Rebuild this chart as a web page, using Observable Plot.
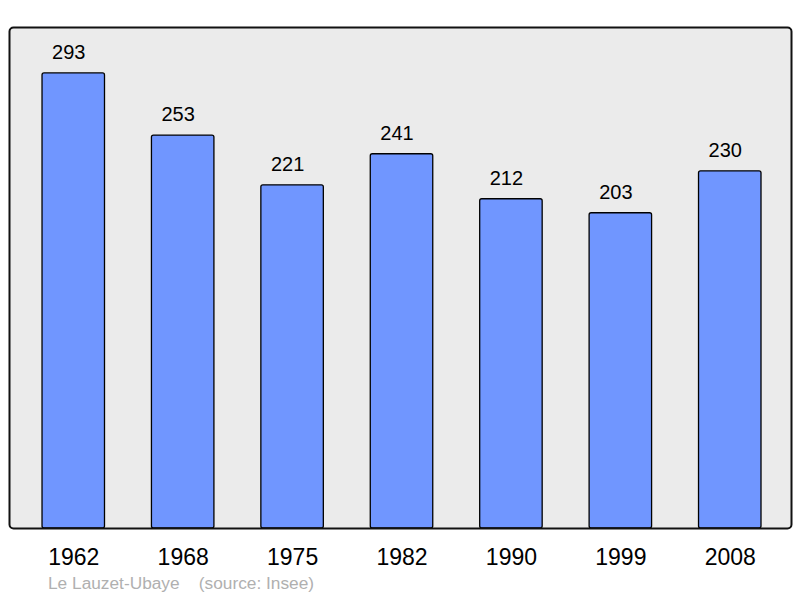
<!DOCTYPE html>
<html>
<head>
<meta charset="utf-8">
<script src="https://cdn.jsdelivr.net/npm/d3@7"></script>
<script src="https://cdn.jsdelivr.net/npm/@observablehq/plot@0.6"></script>
<style>
  body { margin: 0; background: #fff; font-family: "Liberation Sans", Arial, sans-serif; }
  #chart svg { display: block; }
  #caption { margin: -5px 0 0 48px; font-size: 17.3px; line-height: 21px; color: #b0b0b0; white-space: pre; position: relative; }
</style>
</head>
<body>
<div id="chart"></div>
<div id="caption">Le Lauzet-Ubaye    (source: Insee)</div>
<script>
const years = ["1962", "1968", "1975", "1982", "1990", "1999", "2008"];
const population = [293, 253, 221, 241, 212, 203, 230];

const data = years.map((y, i) => ({year: y, pop: population[i]}));

const chart = Plot.plot({
  width: 800,
  height: 578,
  marginTop: 27,
  marginBottom: 50,
  marginLeft: 9,
  marginRight: 9,
  style: {fontFamily: "Liberation Sans, Arial, sans-serif", background: "white"},
  x: {domain: years, paddingInner: 0.429, paddingOuter: 0.288, align: 0.524, round: false, label: null},
  y: {domain: [0, 322.6], axis: null},
  marks: [
    Plot.frame({fill: "#ebebeb", stroke: "none", rx: 4}),
    Plot.barY(data, {x: "year", y: "pop", fill: "#7096ff", stroke: "black", strokeWidth: 1.3, rx: 2}),
    Plot.text(data, {x: "year", y: "pop", text: d => String(d.pop), lineAnchor: "bottom", dy: -14.5, dx: -5, fontSize: 20, fill: "black"}),
    Plot.axisX({tickSize: 0, tickPadding: 20, fontSize: 23, color: "black", label: null}),
    Plot.frame({stroke: "#111", strokeWidth: 2, rx: 4})
  ]
});
document.getElementById("chart").appendChild(chart);
</script>
</body>
</html>
